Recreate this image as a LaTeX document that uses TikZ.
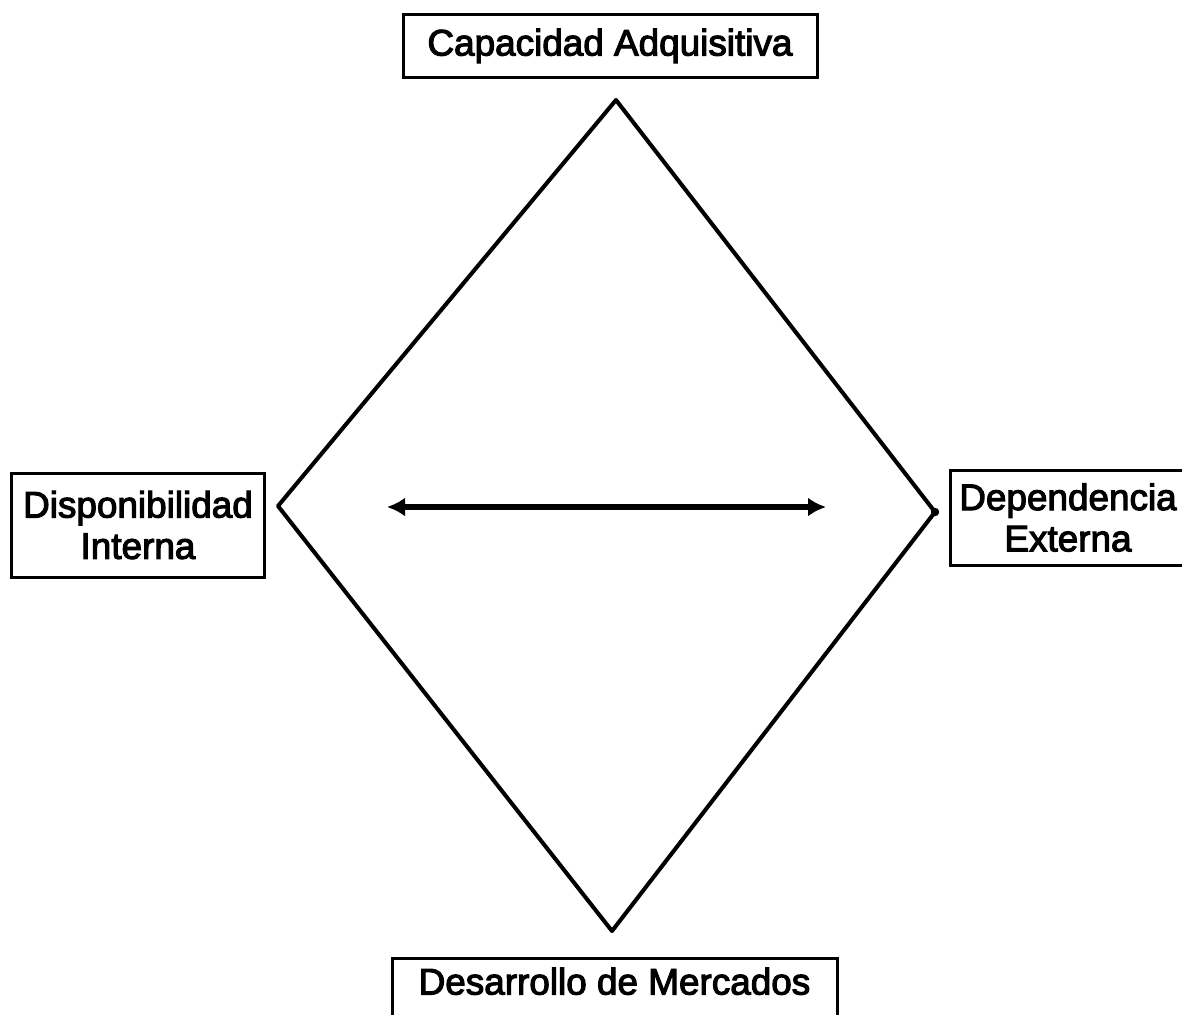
\documentclass[tikz,border=0pt]{standalone}
\usepackage{fontspec}
\setmainfont{Liberation Sans}
\newfontfamily\labelfont[FakeBold=3]{Liberation Sans}
\usetikzlibrary{arrows.meta}

\begin{document}
\begin{tikzpicture}[x=0.02cm, y=-0.02cm,
    box/.style={draw, line width=1.7pt, rectangle, inner sep=0pt, align=center,
        font=\labelfont\fontsize{21}{23.5}\selectfont},
    edge/.style={line width=2.3pt, line join=round}]
    \clip (0, 0) rectangle (1182, 1014);

    % labels at the four corners
    \node[box, minimum width=414*0.02cm, minimum height=63*0.02cm] (capacidad) at (610, 46) {Capacidad Adquisitiva};
    \node[box, minimum width=253*0.02cm, minimum height=104*0.02cm] (interna) at (138, 525) {Disponibilidad\\Interna};
    \node[box, minimum width=236*0.02cm, minimum height=95*0.02cm] (externa) at (1068, 517.5) {Dependencia\\Externa};
    \node[box, minimum width=445*0.02cm, text height=36*0.02cm, text depth=50*0.02cm, anchor=north] (mercados) at (614.5, 957) {Desarrollo de Mercados};

    % diamond
    \coordinate (top) at (616, 100);
    \coordinate (right) at (935, 512);
    \coordinate (bottom) at (612, 931);
    \coordinate (left) at (278, 506);
    \draw[edge] (top) -- (right) -- (bottom) -- (left) -- cycle;
    \fill (right) circle (2.4pt);

    % double arrow through the middle
    \coordinate (la) at (387, 507);
    \coordinate (ra) at (826, 507);
    \draw[line width=3pt, {Latex[length=0.36cm, width=0.38cm]}-{Latex[length=0.36cm, width=0.38cm]}] (la) -- (ra);
\end{tikzpicture}
\end{document}
